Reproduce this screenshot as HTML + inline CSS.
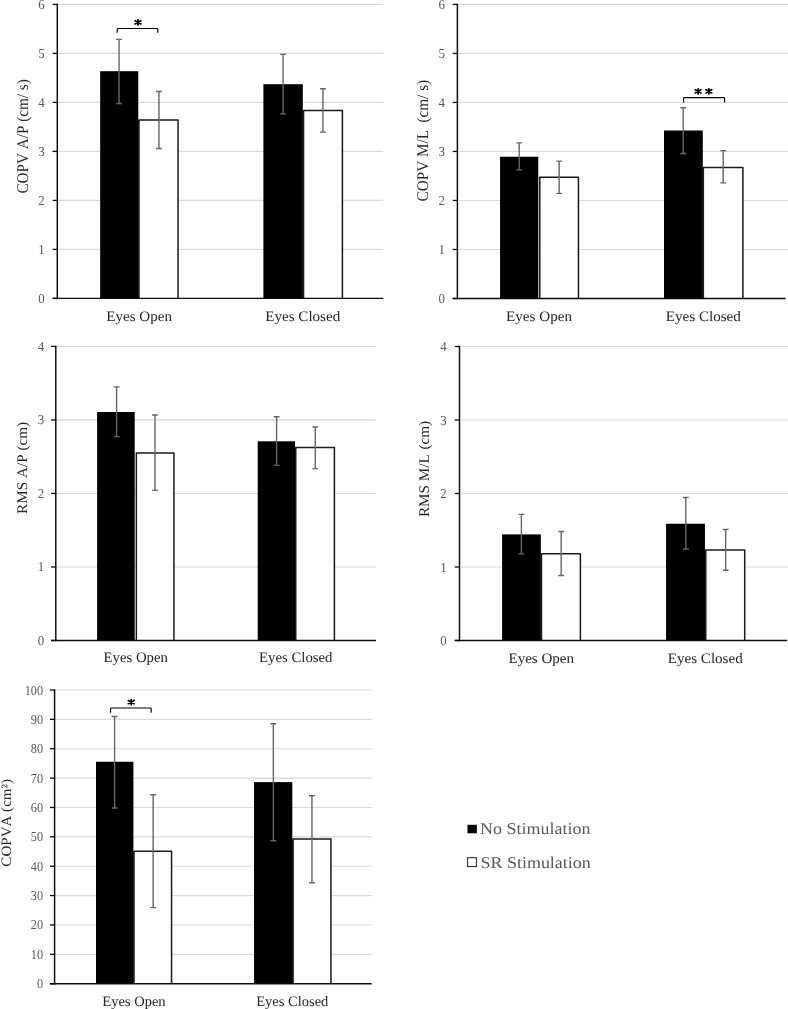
<!DOCTYPE html>
<html><head><meta charset="utf-8"><title>Figure</title>
<style>
html,body{margin:0;padding:0;background:#fff;}
body{width:788px;height:1009px;overflow:hidden;}
svg{display:block;font-family:"Liberation Serif",serif;text-rendering:geometricPrecision;font-kerning:none;filter:blur(0.4px);}
</style></head><body>
<svg width="788" height="1009" viewBox="0 0 788 1009">
<rect width="788" height="1009" fill="#fff"/>
<line x1="57.3" y1="249.40" x2="383.3" y2="249.40" stroke="#d9d9d9" stroke-width="1.1"/>
<line x1="57.3" y1="200.40" x2="383.3" y2="200.40" stroke="#d9d9d9" stroke-width="1.1"/>
<line x1="57.3" y1="151.40" x2="383.3" y2="151.40" stroke="#d9d9d9" stroke-width="1.1"/>
<line x1="57.3" y1="102.40" x2="383.3" y2="102.40" stroke="#d9d9d9" stroke-width="1.1"/>
<line x1="57.3" y1="53.40" x2="383.3" y2="53.40" stroke="#d9d9d9" stroke-width="1.1"/>
<line x1="57.3" y1="4.40" x2="383.3" y2="4.40" stroke="#d9d9d9" stroke-width="1.1"/>
<rect x="100.15" y="71.2" width="38.15" height="227.20" fill="#000"/>
<rect x="138.10" y="119.9" width="0.90" height="178.50" fill="#000"/>
<path d="M139.0 298.4V119.9H178.05V298.4" fill="#fff" stroke="#1a1a1a" stroke-width="1.5" stroke-linejoin="round"/>
<rect x="263.4" y="84.2" width="39.40" height="214.20" fill="#000"/>
<rect x="302.60" y="110.4" width="0.95" height="188.00" fill="#000"/>
<path d="M303.55 298.4V110.4H342.4V298.4" fill="#fff" stroke="#1a1a1a" stroke-width="1.5" stroke-linejoin="round"/>
<path d="M119.05 39.4V103.45M116.15 39.4h5.8M116.15 103.45h5.8" stroke="#666666" stroke-width="1.4" fill="none"/>
<path d="M158.95 91.5V148.55M156.05 91.5h5.8M156.05 148.55h5.8" stroke="#666666" stroke-width="1.4" fill="none"/>
<path d="M283.1 54.4V113.85M280.20 54.4h5.8M280.20 113.85h5.8" stroke="#666666" stroke-width="1.4" fill="none"/>
<path d="M322.95 88.7V132.15M320.05 88.7h5.8M320.05 132.15h5.8" stroke="#666666" stroke-width="1.4" fill="none"/>
<line x1="52.60" y1="298.40" x2="57.3" y2="298.40" stroke="#0a0a0a" stroke-width="1.3"/>
<text transform="translate(44.60,302.90) scale(0.95,1)" text-anchor="end" font-size="13.6" fill="#595959">0</text>
<line x1="52.60" y1="249.40" x2="57.3" y2="249.40" stroke="#0a0a0a" stroke-width="1.3"/>
<text transform="translate(44.60,253.90) scale(0.95,1)" text-anchor="end" font-size="13.6" fill="#595959">1</text>
<line x1="52.60" y1="200.40" x2="57.3" y2="200.40" stroke="#0a0a0a" stroke-width="1.3"/>
<text transform="translate(44.60,204.90) scale(0.95,1)" text-anchor="end" font-size="13.6" fill="#595959">2</text>
<line x1="52.60" y1="151.40" x2="57.3" y2="151.40" stroke="#0a0a0a" stroke-width="1.3"/>
<text transform="translate(44.60,155.90) scale(0.95,1)" text-anchor="end" font-size="13.6" fill="#595959">3</text>
<line x1="52.60" y1="102.40" x2="57.3" y2="102.40" stroke="#0a0a0a" stroke-width="1.3"/>
<text transform="translate(44.60,106.90) scale(0.95,1)" text-anchor="end" font-size="13.6" fill="#595959">4</text>
<line x1="52.60" y1="53.40" x2="57.3" y2="53.40" stroke="#0a0a0a" stroke-width="1.3"/>
<text transform="translate(44.60,57.90) scale(0.95,1)" text-anchor="end" font-size="13.6" fill="#595959">5</text>
<line x1="52.60" y1="4.40" x2="57.3" y2="4.40" stroke="#0a0a0a" stroke-width="1.3"/>
<text transform="translate(44.60,8.90) scale(0.95,1)" text-anchor="end" font-size="13.6" fill="#595959">6</text>
<line x1="57.3" y1="3.65" x2="57.3" y2="299.15" stroke="#0a0a0a" stroke-width="1.45"/>
<line x1="52.60" y1="298.4" x2="383.3" y2="298.4" stroke="#0a0a0a" stroke-width="1.35"/>
<text transform="translate(139.1,320.7) scale(1.0379,1)" text-anchor="middle" font-size="14.5" fill="#262626">Eyes Open</text>
<text transform="translate(302.75,320.7) scale(1.0379,1)" text-anchor="middle" font-size="14.5" fill="#262626">Eyes Closed</text>
<text transform="translate(28.2,136.4) rotate(-90) scale(1,1.07)" text-anchor="middle" font-size="15.2" fill="#262626" xml:space="preserve">COPV A/P (cm/ s)</text>
<path d="M117.2 32.8V29.3Q117.2 28.5 118.0 28.5H156.95Q157.75 28.5 157.75 29.3V32.8" stroke="#000" stroke-width="1.15" fill="none"/>
<path transform="translate(138.0,22.35)" d="M0 -2.55V2.55M-2.85 -1.6L2.85 1.6M-2.85 1.6L2.85 -1.6" stroke="#000" stroke-width="1.75" stroke-linecap="round" fill="none"/>
<line x1="457.4" y1="249.48" x2="788" y2="249.48" stroke="#d9d9d9" stroke-width="1.1"/>
<line x1="457.4" y1="200.47" x2="788" y2="200.47" stroke="#d9d9d9" stroke-width="1.1"/>
<line x1="457.4" y1="151.45" x2="788" y2="151.45" stroke="#d9d9d9" stroke-width="1.1"/>
<line x1="457.4" y1="102.43" x2="788" y2="102.43" stroke="#d9d9d9" stroke-width="1.1"/>
<line x1="457.4" y1="53.42" x2="788" y2="53.42" stroke="#d9d9d9" stroke-width="1.1"/>
<line x1="457.4" y1="4.40" x2="788" y2="4.40" stroke="#d9d9d9" stroke-width="1.1"/>
<rect x="500.05" y="156.75" width="38.25" height="141.75" fill="#000"/>
<path d="M539.75 298.5V177.3H578.45V298.5" fill="#fff" stroke="#1a1a1a" stroke-width="1.5" stroke-linejoin="round"/>
<rect x="664.0" y="130.5" width="38.80" height="168.00" fill="#000"/>
<rect x="702.60" y="167.5" width="0.75" height="131.00" fill="#000"/>
<path d="M703.35 298.5V167.5H742.9V298.5" fill="#fff" stroke="#1a1a1a" stroke-width="1.5" stroke-linejoin="round"/>
<path d="M519.2 142.85V169.9M516.30 142.85h5.8M516.30 169.9h5.8" stroke="#666666" stroke-width="1.4" fill="none"/>
<path d="M559.15 161.1V193.35M556.25 161.1h5.8M556.25 193.35h5.8" stroke="#666666" stroke-width="1.4" fill="none"/>
<path d="M683.2 107.7V153.45M680.30 107.7h5.8M680.30 153.45h5.8" stroke="#666666" stroke-width="1.4" fill="none"/>
<path d="M723.2 150.6V182.85M720.30 150.6h5.8M720.30 182.85h5.8" stroke="#666666" stroke-width="1.4" fill="none"/>
<line x1="452.70" y1="298.50" x2="457.4" y2="298.50" stroke="#0a0a0a" stroke-width="1.3"/>
<text transform="translate(444.90,303.00) scale(0.95,1)" text-anchor="end" font-size="13.6" fill="#595959">0</text>
<line x1="452.70" y1="249.48" x2="457.4" y2="249.48" stroke="#0a0a0a" stroke-width="1.3"/>
<text transform="translate(444.90,253.98) scale(0.95,1)" text-anchor="end" font-size="13.6" fill="#595959">1</text>
<line x1="452.70" y1="200.47" x2="457.4" y2="200.47" stroke="#0a0a0a" stroke-width="1.3"/>
<text transform="translate(444.90,204.97) scale(0.95,1)" text-anchor="end" font-size="13.6" fill="#595959">2</text>
<line x1="452.70" y1="151.45" x2="457.4" y2="151.45" stroke="#0a0a0a" stroke-width="1.3"/>
<text transform="translate(444.90,155.95) scale(0.95,1)" text-anchor="end" font-size="13.6" fill="#595959">3</text>
<line x1="452.70" y1="102.43" x2="457.4" y2="102.43" stroke="#0a0a0a" stroke-width="1.3"/>
<text transform="translate(444.90,106.93) scale(0.95,1)" text-anchor="end" font-size="13.6" fill="#595959">4</text>
<line x1="452.70" y1="53.42" x2="457.4" y2="53.42" stroke="#0a0a0a" stroke-width="1.3"/>
<text transform="translate(444.90,57.92) scale(0.95,1)" text-anchor="end" font-size="13.6" fill="#595959">5</text>
<line x1="452.70" y1="4.40" x2="457.4" y2="4.40" stroke="#0a0a0a" stroke-width="1.3"/>
<text transform="translate(444.90,8.90) scale(0.95,1)" text-anchor="end" font-size="13.6" fill="#595959">6</text>
<line x1="457.4" y1="3.65" x2="457.4" y2="299.25" stroke="#0a0a0a" stroke-width="1.45"/>
<line x1="452.70" y1="298.5" x2="785.6" y2="298.5" stroke="#0a0a0a" stroke-width="1.35"/>
<text transform="translate(539,320.7) scale(1.0428,1)" text-anchor="middle" font-size="14.5" fill="#262626">Eyes Open</text>
<text transform="translate(703.3,320.7) scale(1.0428,1)" text-anchor="middle" font-size="14.5" fill="#262626">Eyes Closed</text>
<text transform="translate(428.0,140.65) rotate(-90) scale(1,1.07)" text-anchor="middle" font-size="15.2" fill="#262626" xml:space="preserve">COPV M/L  (cm/ s)</text>
<path d="M683.6 102.55V98.39999999999999Q683.6 97.6 684.4 97.6H723.8000000000001Q724.6 97.6 724.6 98.39999999999999V102.55" stroke="#000" stroke-width="1.15" fill="none"/>
<path transform="translate(698.1,91.35)" d="M0 -2.55V2.55M-2.85 -1.6L2.85 1.6M-2.85 1.6L2.85 -1.6" stroke="#000" stroke-width="1.75" stroke-linecap="round" fill="none"/>
<path transform="translate(708.9,91.35)" d="M0 -2.55V2.55M-2.85 -1.6L2.85 1.6M-2.85 1.6L2.85 -1.6" stroke="#000" stroke-width="1.75" stroke-linecap="round" fill="none"/>
<line x1="55.8" y1="566.98" x2="375.5" y2="566.98" stroke="#d9d9d9" stroke-width="1.1"/>
<line x1="55.8" y1="493.45" x2="375.5" y2="493.45" stroke="#d9d9d9" stroke-width="1.1"/>
<line x1="55.8" y1="419.92" x2="375.5" y2="419.92" stroke="#d9d9d9" stroke-width="1.1"/>
<line x1="55.8" y1="346.40" x2="375.5" y2="346.40" stroke="#d9d9d9" stroke-width="1.1"/>
<rect x="97.1" y="412.0" width="37.60" height="228.50" fill="#000"/>
<path d="M136.35 640.5V452.95H173.95V640.5" fill="#fff" stroke="#1a1a1a" stroke-width="1.5" stroke-linejoin="round"/>
<rect x="257.7" y="441.3" width="37.30" height="199.20" fill="#000"/>
<rect x="294.80" y="447.55" width="0.95" height="192.95" fill="#000"/>
<path d="M295.75 640.5V447.55H334.4V640.5" fill="#fff" stroke="#1a1a1a" stroke-width="1.5" stroke-linejoin="round"/>
<path d="M116.6 386.85V436.6M113.70 386.85h5.8M113.70 436.6h5.8" stroke="#666666" stroke-width="1.4" fill="none"/>
<path d="M155.0 414.95V490.35M152.10 414.95h5.8M152.10 490.35h5.8" stroke="#666666" stroke-width="1.4" fill="none"/>
<path d="M276.6 416.8V465.4M273.70 416.8h5.8M273.70 465.4h5.8" stroke="#666666" stroke-width="1.4" fill="none"/>
<path d="M315.3 427.0V468.6M312.40 427.0h5.8M312.40 468.6h5.8" stroke="#666666" stroke-width="1.4" fill="none"/>
<line x1="51.10" y1="640.50" x2="55.8" y2="640.50" stroke="#0a0a0a" stroke-width="1.3"/>
<text transform="translate(44.10,645.00) scale(0.95,1)" text-anchor="end" font-size="13.6" fill="#595959">0</text>
<line x1="51.10" y1="566.98" x2="55.8" y2="566.98" stroke="#0a0a0a" stroke-width="1.3"/>
<text transform="translate(44.10,571.48) scale(0.95,1)" text-anchor="end" font-size="13.6" fill="#595959">1</text>
<line x1="51.10" y1="493.45" x2="55.8" y2="493.45" stroke="#0a0a0a" stroke-width="1.3"/>
<text transform="translate(44.10,497.95) scale(0.95,1)" text-anchor="end" font-size="13.6" fill="#595959">2</text>
<line x1="51.10" y1="419.92" x2="55.8" y2="419.92" stroke="#0a0a0a" stroke-width="1.3"/>
<text transform="translate(44.10,424.42) scale(0.95,1)" text-anchor="end" font-size="13.6" fill="#595959">3</text>
<line x1="51.10" y1="346.40" x2="55.8" y2="346.40" stroke="#0a0a0a" stroke-width="1.3"/>
<text transform="translate(44.10,350.90) scale(0.95,1)" text-anchor="end" font-size="13.6" fill="#595959">4</text>
<line x1="55.8" y1="345.65" x2="55.8" y2="641.25" stroke="#0a0a0a" stroke-width="1.45"/>
<line x1="51.10" y1="640.5" x2="376.1" y2="640.5" stroke="#0a0a0a" stroke-width="1.35"/>
<text transform="translate(135.75,662.0) scale(1.0186,1)" text-anchor="middle" font-size="14.5" fill="#262626">Eyes Open</text>
<text transform="translate(295.75,662.0) scale(1.0186,1)" text-anchor="middle" font-size="14.5" fill="#262626">Eyes Closed</text>
<text transform="translate(26.8,467.9) rotate(-90) scale(1,0.97)" text-anchor="middle" font-size="15.2" fill="#262626" xml:space="preserve">RMS A/P (cm)</text>
<line x1="459.5" y1="567.00" x2="788" y2="567.00" stroke="#d9d9d9" stroke-width="1.1"/>
<line x1="459.5" y1="493.50" x2="788" y2="493.50" stroke="#d9d9d9" stroke-width="1.1"/>
<line x1="459.5" y1="420.00" x2="788" y2="420.00" stroke="#d9d9d9" stroke-width="1.1"/>
<line x1="459.5" y1="346.50" x2="788" y2="346.50" stroke="#d9d9d9" stroke-width="1.1"/>
<rect x="502.1" y="534.4" width="38.75" height="106.10" fill="#000"/>
<rect x="540.65" y="553.85" width="0.85" height="86.65" fill="#000"/>
<path d="M541.5 640.5V553.85H580.4V640.5" fill="#fff" stroke="#1a1a1a" stroke-width="1.5" stroke-linejoin="round"/>
<rect x="666.05" y="523.75" width="38.90" height="116.75" fill="#000"/>
<rect x="704.75" y="550.1" width="1.00" height="90.40" fill="#000"/>
<path d="M705.75 640.5V550.1H744.7V640.5" fill="#fff" stroke="#1a1a1a" stroke-width="1.5" stroke-linejoin="round"/>
<path d="M521.4 514.4V553.85M518.50 514.4h5.8M518.50 553.85h5.8" stroke="#666666" stroke-width="1.4" fill="none"/>
<path d="M561.2 531.55V575.5M558.30 531.55h5.8M558.30 575.5h5.8" stroke="#666666" stroke-width="1.4" fill="none"/>
<path d="M685.8 497.45V549.0M682.90 497.45h5.8M682.90 549.0h5.8" stroke="#666666" stroke-width="1.4" fill="none"/>
<path d="M725.65 529.55V570.25M722.75 529.55h5.8M722.75 570.25h5.8" stroke="#666666" stroke-width="1.4" fill="none"/>
<line x1="454.80" y1="640.50" x2="459.5" y2="640.50" stroke="#0a0a0a" stroke-width="1.3"/>
<text transform="translate(446.80,645.00) scale(0.95,1)" text-anchor="end" font-size="13.6" fill="#595959">0</text>
<line x1="454.80" y1="567.00" x2="459.5" y2="567.00" stroke="#0a0a0a" stroke-width="1.3"/>
<text transform="translate(446.80,571.50) scale(0.95,1)" text-anchor="end" font-size="13.6" fill="#595959">1</text>
<line x1="454.80" y1="493.50" x2="459.5" y2="493.50" stroke="#0a0a0a" stroke-width="1.3"/>
<text transform="translate(446.80,498.00) scale(0.95,1)" text-anchor="end" font-size="13.6" fill="#595959">2</text>
<line x1="454.80" y1="420.00" x2="459.5" y2="420.00" stroke="#0a0a0a" stroke-width="1.3"/>
<text transform="translate(446.80,424.50) scale(0.95,1)" text-anchor="end" font-size="13.6" fill="#595959">3</text>
<line x1="454.80" y1="346.50" x2="459.5" y2="346.50" stroke="#0a0a0a" stroke-width="1.3"/>
<text transform="translate(446.80,351.00) scale(0.95,1)" text-anchor="end" font-size="13.6" fill="#595959">4</text>
<line x1="459.5" y1="345.75" x2="459.5" y2="641.25" stroke="#0a0a0a" stroke-width="1.45"/>
<line x1="454.80" y1="640.5" x2="787.2" y2="640.5" stroke="#0a0a0a" stroke-width="1.35"/>
<text transform="translate(541.25,662.5) scale(1.0379,1)" text-anchor="middle" font-size="14.5" fill="#262626">Eyes Open</text>
<text transform="translate(705.25,662.5) scale(1.0379,1)" text-anchor="middle" font-size="14.5" fill="#262626">Eyes Closed</text>
<text transform="translate(429.0,469) rotate(-90) scale(1,0.97)" text-anchor="middle" font-size="15.2" fill="#262626" xml:space="preserve">RMS M/L  <tspan dx="-3">(cm)</tspan></text>
<line x1="54.6" y1="954.33" x2="371.6" y2="954.33" stroke="#d9d9d9" stroke-width="1.1"/>
<line x1="54.6" y1="924.96" x2="371.6" y2="924.96" stroke="#d9d9d9" stroke-width="1.1"/>
<line x1="54.6" y1="895.59" x2="371.6" y2="895.59" stroke="#d9d9d9" stroke-width="1.1"/>
<line x1="54.6" y1="866.22" x2="371.6" y2="866.22" stroke="#d9d9d9" stroke-width="1.1"/>
<line x1="54.6" y1="836.85" x2="371.6" y2="836.85" stroke="#d9d9d9" stroke-width="1.1"/>
<line x1="54.6" y1="807.48" x2="371.6" y2="807.48" stroke="#d9d9d9" stroke-width="1.1"/>
<line x1="54.6" y1="778.11" x2="371.6" y2="778.11" stroke="#d9d9d9" stroke-width="1.1"/>
<line x1="54.6" y1="748.74" x2="371.6" y2="748.74" stroke="#d9d9d9" stroke-width="1.1"/>
<line x1="54.6" y1="719.37" x2="371.6" y2="719.37" stroke="#d9d9d9" stroke-width="1.1"/>
<line x1="54.6" y1="690.00" x2="371.6" y2="690.00" stroke="#d9d9d9" stroke-width="1.1"/>
<rect x="96.0" y="761.75" width="37.40" height="221.95" fill="#000"/>
<rect x="133.20" y="851.2" width="0.80" height="132.50" fill="#000"/>
<path d="M134.0 983.7V851.2H171.55V983.7" fill="#fff" stroke="#1a1a1a" stroke-width="1.5" stroke-linejoin="round"/>
<rect x="254.05" y="782.1" width="38.25" height="201.60" fill="#000"/>
<rect x="292.10" y="839.0" width="1.00" height="144.70" fill="#000"/>
<path d="M293.1 983.7V839.0H330.95V983.7" fill="#fff" stroke="#1a1a1a" stroke-width="1.5" stroke-linejoin="round"/>
<path d="M114.6 716.5V808.0M111.70 716.5h5.8M111.70 808.0h5.8" stroke="#666666" stroke-width="1.4" fill="none"/>
<path d="M153.15 794.75V907.65M150.25 794.75h5.8M150.25 907.65h5.8" stroke="#666666" stroke-width="1.4" fill="none"/>
<path d="M273.35 723.75V840.7M270.45 723.75h5.8M270.45 840.7h5.8" stroke="#666666" stroke-width="1.4" fill="none"/>
<path d="M311.95 795.7V882.7M309.05 795.7h5.8M309.05 882.7h5.8" stroke="#666666" stroke-width="1.4" fill="none"/>
<line x1="49.90" y1="983.70" x2="54.6" y2="983.70" stroke="#0a0a0a" stroke-width="1.3"/>
<text transform="translate(43.10,988.20) scale(0.9,1)" text-anchor="end" font-size="13.6" fill="#595959">0</text>
<line x1="49.90" y1="954.33" x2="54.6" y2="954.33" stroke="#0a0a0a" stroke-width="1.3"/>
<text transform="translate(43.10,958.83) scale(0.9,1)" text-anchor="end" font-size="13.6" fill="#595959">10</text>
<line x1="49.90" y1="924.96" x2="54.6" y2="924.96" stroke="#0a0a0a" stroke-width="1.3"/>
<text transform="translate(43.10,929.46) scale(0.9,1)" text-anchor="end" font-size="13.6" fill="#595959">20</text>
<line x1="49.90" y1="895.59" x2="54.6" y2="895.59" stroke="#0a0a0a" stroke-width="1.3"/>
<text transform="translate(43.10,900.09) scale(0.9,1)" text-anchor="end" font-size="13.6" fill="#595959">30</text>
<line x1="49.90" y1="866.22" x2="54.6" y2="866.22" stroke="#0a0a0a" stroke-width="1.3"/>
<text transform="translate(43.10,870.72) scale(0.9,1)" text-anchor="end" font-size="13.6" fill="#595959">40</text>
<line x1="49.90" y1="836.85" x2="54.6" y2="836.85" stroke="#0a0a0a" stroke-width="1.3"/>
<text transform="translate(43.10,841.35) scale(0.9,1)" text-anchor="end" font-size="13.6" fill="#595959">50</text>
<line x1="49.90" y1="807.48" x2="54.6" y2="807.48" stroke="#0a0a0a" stroke-width="1.3"/>
<text transform="translate(43.10,811.98) scale(0.9,1)" text-anchor="end" font-size="13.6" fill="#595959">60</text>
<line x1="49.90" y1="778.11" x2="54.6" y2="778.11" stroke="#0a0a0a" stroke-width="1.3"/>
<text transform="translate(43.10,782.61) scale(0.9,1)" text-anchor="end" font-size="13.6" fill="#595959">70</text>
<line x1="49.90" y1="748.74" x2="54.6" y2="748.74" stroke="#0a0a0a" stroke-width="1.3"/>
<text transform="translate(43.10,753.24) scale(0.9,1)" text-anchor="end" font-size="13.6" fill="#595959">80</text>
<line x1="49.90" y1="719.37" x2="54.6" y2="719.37" stroke="#0a0a0a" stroke-width="1.3"/>
<text transform="translate(43.10,723.87) scale(0.9,1)" text-anchor="end" font-size="13.6" fill="#595959">90</text>
<line x1="49.90" y1="690.00" x2="54.6" y2="690.00" stroke="#0a0a0a" stroke-width="1.3"/>
<text transform="translate(43.10,694.50) scale(0.9,1)" text-anchor="end" font-size="13.6" fill="#595959">100</text>
<line x1="54.6" y1="689.25" x2="54.6" y2="984.45" stroke="#0a0a0a" stroke-width="1.45"/>
<line x1="49.90" y1="983.7" x2="371.6" y2="983.7" stroke="#0a0a0a" stroke-width="1.35"/>
<text transform="translate(133.95,1005.6) scale(1.0012,1)" text-anchor="middle" font-size="14.5" fill="#262626">Eyes Open</text>
<text transform="translate(292.25,1005.6) scale(1.0012,1)" text-anchor="middle" font-size="14.5" fill="#262626">Eyes Closed</text>
<text transform="translate(11.3,822.8) rotate(-90) scale(1,0.95)" text-anchor="middle" font-size="15.05" fill="#262626" xml:space="preserve">COPVA (cm²)</text>
<path d="M110.55 712.65V708.8Q110.55 708.0 111.35 708.0H150.35Q151.15 708.0 151.15 708.8V712.65" stroke="#000" stroke-width="1.15" fill="none"/>
<path transform="translate(131.2,702.1)" d="M0 -2.55V2.55M-2.85 -1.6L2.85 1.6M-2.85 1.6L2.85 -1.6" stroke="#000" stroke-width="1.75" stroke-linecap="round" fill="none"/>
<rect x="467.5" y="824.8" width="9.4" height="8.5" fill="#000"/>
<text transform="translate(480.0,833.7) scale(1.09,1)" font-size="16.5" fill="#595959">No Stimulation</text>
<rect x="467.6" y="857.7" width="8.8" height="8.8" fill="#fff" stroke="#222" stroke-width="1"/>
<text transform="translate(480.4,867.8) scale(1.09,1)" font-size="16.5" fill="#595959">SR Stimulation</text>
</svg>
</body></html>
